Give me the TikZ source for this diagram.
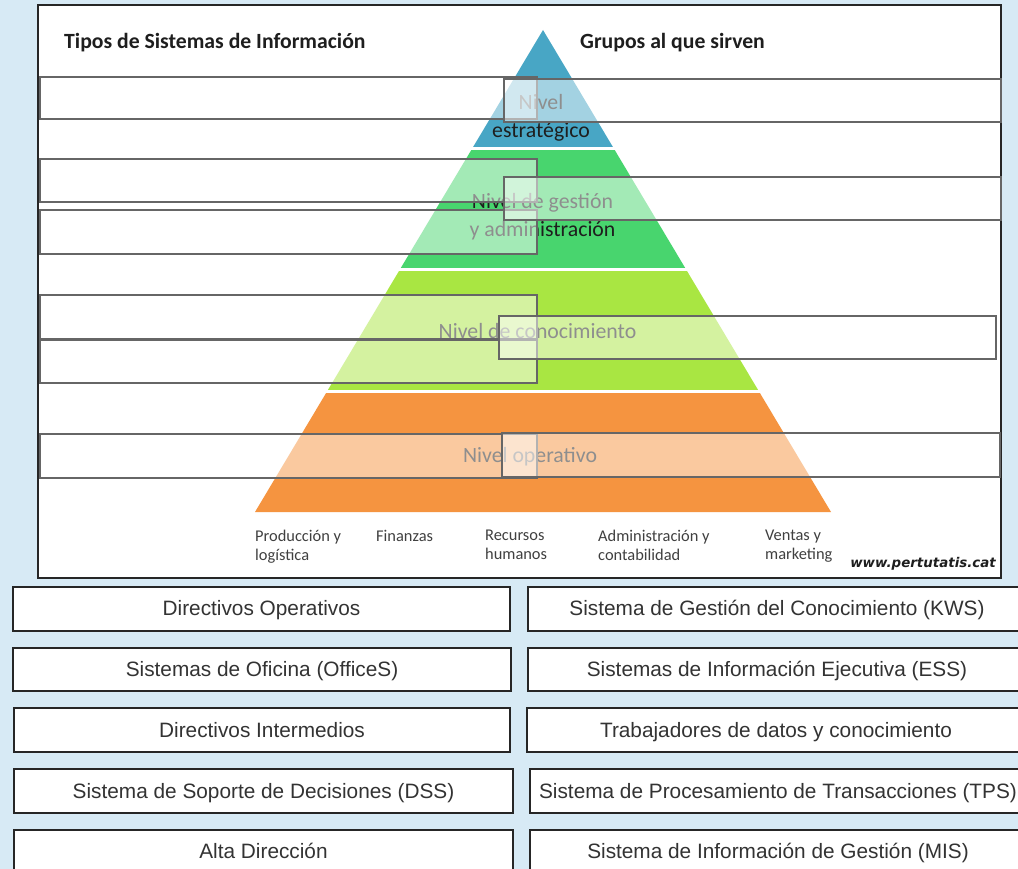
\documentclass[tikz,border=0pt]{standalone}
\usepackage{fontspec}
\setmainfont{Carlito}
\newfontfamily\arialf{Liberation Sans}
\newfontfamily\dejaf{DejaVu Sans}
\definecolor{bgblue}{RGB}{215,234,245}
\definecolor{pblue}{RGB}{72,166,197}
\definecolor{pgreen}{RGB}{72,213,110}
\definecolor{plime}{RGB}{169,230,66}
\definecolor{porange}{RGB}{245,148,64}
\definecolor{txtdark}{RGB}{30,30,30}
\definecolor{txtgray}{RGB}{64,64,64}
\definecolor{anstxt}{RGB}{51,51,51}
\tikzset{
  dropbox/.style={fill=white, fill opacity=0.5, draw=black!60, line width=1.2pt},
  ansbox/.style={fill=white, draw=black!85, line width=1.6pt},
  lvltext/.style={font=\fontsize{21.8}{28}\selectfont, text=txtdark, align=center, inner sep=0pt},
  header/.style={font=\bfseries\fontsize{21.7}{25}\selectfont, text=txtdark, anchor=west, inner sep=0pt},
  dept/.style={font=\fontsize{16.4}{18.5}\selectfont, text=txtgray, align=left, anchor=north west, inner sep=0pt},
  anstext/.style={font=\arialf\fontsize{20.8}{24}\selectfont, text=anstxt, inner sep=0pt, anchor=base}
}
\begin{document}
\begin{tikzpicture}[x=1pt,y=-1pt]
\path[use as bounding box] (0,0) rectangle (1018,869);
\clip (0,0) rectangle (1018,869);
\fill[bgblue] (0,0) rectangle (1018,869);
% panel
\draw[fill=white, line width=1.5pt, draw=black!85] (38,5) rectangle (1001,578);
% pyramid
\begin{scope}
\clip (543,30) -- (255,512) -- (831,512) -- cycle;
\fill[pblue] (200,20) rectangle (900,147.5);
\fill[pgreen] (200,150.5) rectangle (900,268.5);
\fill[plime] (200,271.5) rectangle (900,390);
\fill[porange] (200,393) rectangle (900,520);
\end{scope}
% level texts
\node[lvltext] (lv1) at (541,118) {Nivel\\estratégico};
\node[lvltext] (lv2) at (542.5,217) {Nivel de gestión\\y administración};
\node[lvltext] (lv3) at (537.5,331) {Nivel de conocimiento};
\node[lvltext] (lv4) at (530,457) {Nivel operativo};
% headers
\node[header] (h1) at (64,43) {Tipos de Sistemas de Información};
\node[header] (h2) at (580,43) {Grupos al que sirven};
% departments
\node[dept] (d1) at (255,530) {Producción y\\logística};
\node[dept] (d2) at (376,530) {Finanzas};
\node[dept] (d3) at (485,530) {Recursos\\humanos};
\node[dept] (d4) at (598,530) {Administración y\\contabilidad};
\node[dept] (d5) at (765,530) {Ventas y\\marketing};
\node[font=\dejaf\bfseries\itshape\fontsize{13.4}{16}\selectfont, text=txtdark, anchor=east, inner sep=0pt] (web) at (996,564) {www.pertutatis.cat};
% drop zones left
\path[dropbox] (40,77) rectangle (537,119);
\path[dropbox] (40,159) rectangle (537,202);
\path[dropbox] (40,210) rectangle (537,254);
\path[dropbox] (40,295) rectangle (537,339);
\path[dropbox] (40,340) rectangle (537,383);
\path[dropbox] (40,434) rectangle (537,478);
% drop zones right
\path[dropbox] (504,79) rectangle (1001,122);
\path[dropbox] (504,177) rectangle (1001,220);
\path[dropbox] (499,316) rectangle (996,359);
\path[dropbox] (502,433) rectangle (1000,477);
% answer boxes left
\path[ansbox] (13,587) rectangle (510,631);
\path[ansbox] (13,648) rectangle (511,691);
\path[ansbox] (14,708) rectangle (510,752);
\path[ansbox] (14,769) rectangle (513,813);
\path[ansbox] (14,830) rectangle (513,890);
\node[anstext] (a1) at (261.5,615.5) {Directivos Operativos};
\node[anstext] (a2) at (262,676.5) {Sistemas de Oficina (OfficeS)};
\node[anstext] (a3) at (262,737) {Directivos Intermedios};
\node[anstext] (a4) at (263.5,798) {Sistema de Soporte de Decisiones (DSS)};
\node[anstext] (a5) at (263.5,858.5) {Alta Dirección};
% answer boxes right
\path[ansbox] (528,587) rectangle (1026,631);
\path[ansbox] (528,648) rectangle (1026,691);
\path[ansbox] (527,708) rectangle (1026,752);
\path[ansbox] (530,769) rectangle (1026,813);
\path[ansbox] (530,830) rectangle (1026,890);
\node[anstext] (b1) at (777,615.5) {Sistema de Gestión del Conocimiento (KWS)};
\node[anstext] (b2) at (777,676.5) {Sistemas de Información Ejecutiva (ESS)};
\node[anstext] (b3) at (776,737) {Trabajadores de datos y conocimiento};
\node[anstext] (b4) at (778,798) {Sistema de Procesamiento de Transacciones (TPS)};
\node[anstext] (b5) at (778,858.5) {Sistema de Información de Gestión (MIS)};
\end{tikzpicture}
\end{document}
